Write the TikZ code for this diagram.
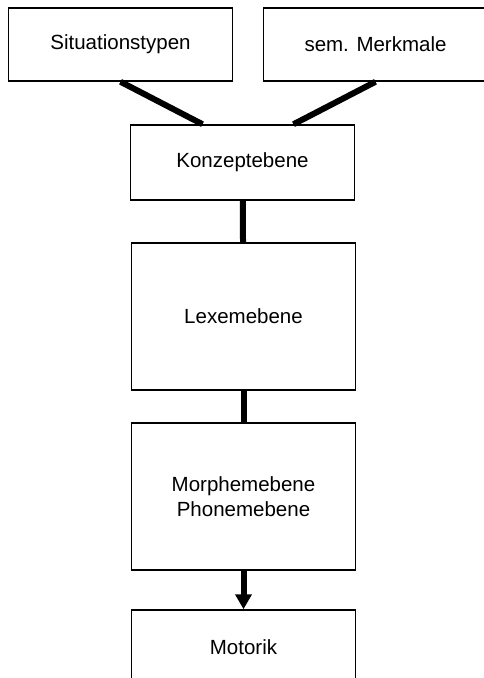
\documentclass[tikz,border=0pt]{standalone}
\usepackage{fontspec}
\setmainfont{Liberation Sans}
\usetikzlibrary{arrows.meta,positioning}
\tikzset{
  ebene/.style={draw,line width=1.5pt,fill=white,minimum width=224pt,minimum height=73pt,
    align=center,font=\fontsize{20.5}{25}\selectfont},
  hoch/.style={ebene,minimum height=147pt},
  verb/.style={line width=6pt}
}
\begin{document}
\begin{tikzpicture}[x=1pt,y=-1pt]
  \useasboundingbox (0,0) rectangle (484,678);
  \node[ebene] (sit) at (120.5,44.5) {Situationstypen};
  \node[ebene] (sem) at (375.5,44.5) {sem. Merkmale};
  \node[ebene,minimum height=75pt] (konz) at (242.5,162.5) {Konzeptebene};
  \node[hoch] (lex) at (243.5,316.5) {Lexemebene};
  \node[hoch] (morph) at (243.5,496.5) {Morphemebene\\Phonemebene};
  \node[ebene,minimum height=75pt] (mot) at (243.5,647.5) {Motorik};
  \draw[verb] (sit.south) -- ([xshift=-40pt]konz.north);
  \draw[verb] (sem.south) -- ([xshift=51pt]konz.north);
  \draw[verb] (konz) -- (lex);
  \draw[verb] (lex) -- (morph);
  \draw[verb,-{Triangle[length=15pt,width=16pt]}] (morph) -- (mot);
\end{tikzpicture}
\end{document}
